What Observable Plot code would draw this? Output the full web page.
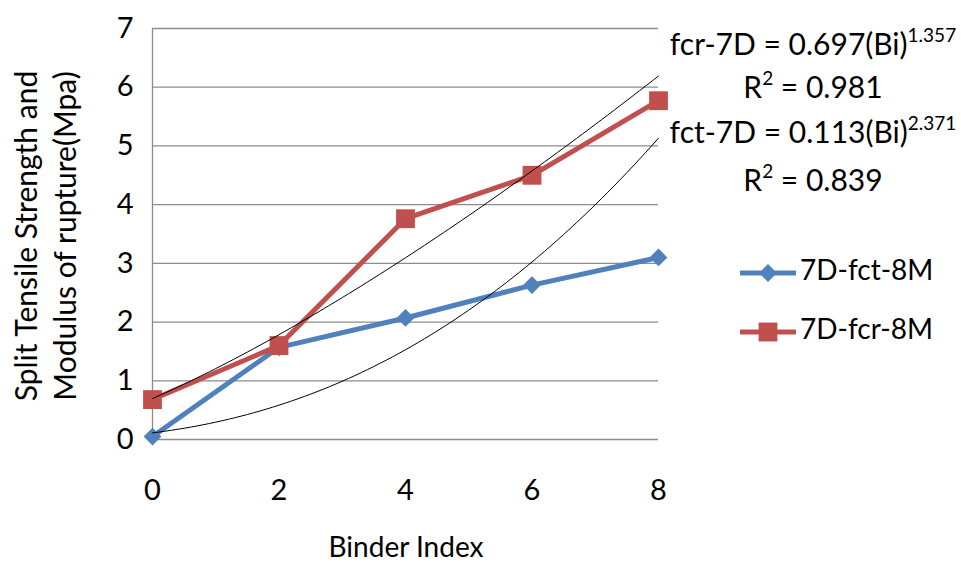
<!DOCTYPE html>
<html><head><meta charset="utf-8">
<script src="https://cdn.jsdelivr.net/npm/d3@7"></script>
<script src="https://cdn.jsdelivr.net/npm/@observablehq/plot@0.6"></script>
<style>
body{margin:0;background:#fff;}
#chart svg{font-family:Lato,"Open Sans",sans-serif;}
</style></head><body><div id="chart"></div>
<script>
const binderIndex = [0, 2, 4, 6, 8];
const fct7D = [0.05, 1.57, 2.07, 2.63, 3.10];
const fcr7D = [0.68, 1.60, 3.76, 4.50, 5.77];
const seriesNames = ["7D-fct-8M", "7D-fcr-8M"];
const seriesColors = ["#4F81BD", "#C0504D"];
const yTicks = [0, 1, 2, 3, 4, 5, 6, 7];
const xTicks = [0, 2, 4, 6, 8];
// power trendlines y = a * (point number)^b (Excel line-chart trendline)
const trendA = [0.113, 0.697];
const trendB = [2.371, 1.357];
const trendR2 = ["0.839", "0.981"];

const pts = [];
binderIndex.forEach((x, i) => {
  pts.push({x, y: fct7D[i], s: seriesNames[0]});
  pts.push({x, y: fcr7D[i], s: seriesNames[1]});
});
const trend = [];
[0, 1].forEach(k => {
  for (let t = 0; t <= 80; t++) {
    const x = t / 10;
    trend.push({x, y: trendA[k] * Math.pow(x / 2 + 1, trendB[k]), s: k});
  }
});

const font = "Lato, 'Open Sans', sans-serif";
const plot = Plot.plot({
  width: 961, height: 568,
  marginLeft: 152, marginRight: 303, marginTop: 28, marginBottom: 129,
  style: {fontFamily: font, fontSize: "29px", color: "#000", background: "#fff"},
  x: {domain: [0, 8], label: null},
  y: {domain: [0, 7], label: null},
  color: {domain: seriesNames, range: seriesColors},
  marks: [
    Plot.gridY(yTicks, {stroke: "#8c8c8c", strokeOpacity: 1, strokeWidth: 1.3}),
    Plot.ruleX([0], {stroke: "#8c8c8c", strokeWidth: 1.3}),
    Plot.axisY({ticks: yTicks, tickSize: 0, tickPadding: 19, tickFormat: d => String(d), label: null}),
    Plot.axisX({ticks: xTicks, tickSize: 0, tickPadding: 40, tickFormat: d => String(d), label: null}),
    Plot.line(pts, {x: "x", y: "y", z: "s", stroke: "s", strokeWidth: 5}),
    Plot.dot(pts.filter(d => d.s === seriesNames[0]), {x: "x", y: "y", symbol: "diamond2", r: 8, fill: seriesColors[0], stroke: "none"}),
    Plot.dot(pts.filter(d => d.s === seriesNames[1]), {x: "x", y: "y", symbol: "square2", r: 12, fill: seriesColors[1], stroke: "none"}),
    Plot.line(trend, {x: "x", y: "y", z: "s", stroke: "#000", strokeWidth: 1, curve: "linear"})
  ]
});
document.getElementById("chart").appendChild(plot);

const svg = d3.select(plot);
// axis titles
svg.append("text").attr("x", 406).attr("y", 557).attr("text-anchor", "middle")
  .attr("font-size", 28).attr("font-family", font).text("Binder Index");
const yt = svg.append("text").attr("transform", "translate(26,236) rotate(-90)").attr("text-anchor", "middle")
  .attr("font-size", 30).attr("font-family", font);
yt.append("tspan").attr("x", 0).attr("dy", "0.35em").text("Split Tensile Strength and");
yt.append("tspan").attr("x", 0).attr("dy", "1.32em").text("Modulus of rupture(Mpa)");

// equations
function eq(label, k, yEq, yR) {
  const t = svg.append("text").attr("x", 813).attr("y", yEq).attr("text-anchor", "middle")
    .attr("dominant-baseline", "middle").attr("font-size", 30).attr("font-family", font);
  t.append("tspan").text(`${label} = ${trendA[k].toFixed(3)}(Bi)`);
  t.append("tspan").attr("font-size", 19).attr("dy", -10).text(trendB[k].toFixed(3));
  const r = svg.append("text").attr("x", 813).attr("y", yR).attr("text-anchor", "middle")
    .attr("dominant-baseline", "middle").attr("font-size", 30).attr("font-family", font);
  r.append("tspan").text("R");
  r.append("tspan").attr("font-size", 19).attr("dy", -10).text("2");
  r.append("tspan").attr("dy", 10).text(` = ${trendR2[k]}`);
}
eq("fcr-7D", 1, 47, 90);
eq("fct-7D", 0, 135, 183);

// legend
seriesNames.forEach((n, i) => {
  const y = 273 + i * 59;
  svg.append("line").attr("x1", 740).attr("x2", 796).attr("y1", y).attr("y2", y)
    .attr("stroke", seriesColors[i]).attr("stroke-width", 5);
  if (i === 0) {
    svg.append("path").attr("d", d3.symbol(d3.symbolDiamond2, Math.PI * 64)()).attr("transform", `translate(768,${y})`).attr("fill", seriesColors[i]);
  } else {
    svg.append("path").attr("d", d3.symbol(d3.symbolSquare2, Math.PI * 144)()).attr("transform", `translate(768,${y})`).attr("fill", seriesColors[i]);
  }
  svg.append("text").attr("x", 800).attr("y", y).attr("text-anchor", "start").attr("dominant-baseline", "middle")
    .attr("font-size", 28).attr("font-family", font).text(n);
});
</script></body></html>
